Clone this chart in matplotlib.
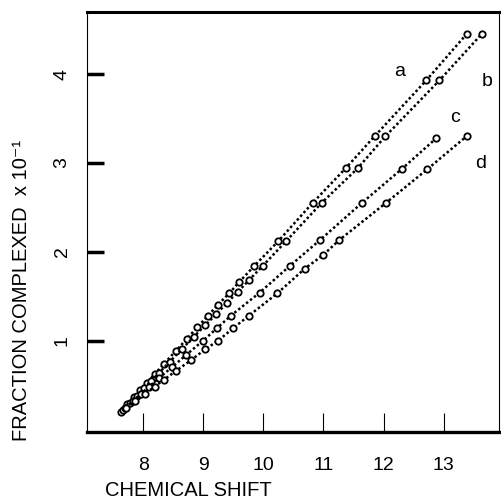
import matplotlib
matplotlib.use("Agg")
import matplotlib.pyplot as plt

plt.rcParams['font.family'] = ['Liberation Sans', 'DejaVu Sans']

# Series a
a_x = [7.63, 7.74, 7.85, 7.95, 8.06, 8.19, 8.35, 8.54, 8.73, 8.90, 9.08, 9.24,
       9.43, 9.60, 9.85, 10.25, 10.82, 11.37, 11.85, 12.71, 13.38]
a_y = [0.20, 0.28, 0.36, 0.44, 0.52, 0.62, 0.74, 0.88, 1.02, 1.15, 1.28, 1.40,
       1.53, 1.66, 1.84, 2.12, 2.55, 2.94, 3.30, 3.93, 4.45]
# Series b
b_x = [7.67, 7.78, 7.90, 8.01, 8.13, 8.27, 8.44, 8.64, 8.84, 9.03, 9.22, 9.39,
       9.58, 9.76, 9.99, 10.38, 10.97, 11.57, 12.03, 12.93, 13.63]
b_y = [0.22, 0.30, 0.38, 0.46, 0.54, 0.64, 0.76, 0.90, 1.04, 1.17, 1.30, 1.42,
       1.55, 1.68, 1.84, 2.12, 2.55, 2.94, 3.30, 3.93, 4.45]
# Series c
c_x = [7.70, 7.83, 7.96, 8.10, 8.27, 8.48, 8.72, 9.00, 9.23, 9.46, 9.94, 10.44,
       10.94, 11.64, 12.30, 12.88]
c_y = [0.24, 0.32, 0.40, 0.48, 0.58, 0.70, 0.84, 1.00, 1.14, 1.28, 1.54, 1.84,
       2.13, 2.55, 2.93, 3.28]
# Series d
d_x = [7.72, 7.87, 8.03, 8.19, 8.35, 8.55, 8.80, 9.03, 9.25, 9.50, 9.76, 10.23,
       10.69, 10.99, 11.26, 12.04, 12.73, 13.38]
d_y = [0.24, 0.32, 0.40, 0.48, 0.56, 0.66, 0.78, 0.90, 1.00, 1.14, 1.28, 1.53,
       1.81, 1.96, 2.13, 2.55, 2.93, 3.30]

series_labels = ['a', 'b', 'c', 'd']
label_pos = [(12.27, 4.03), (13.73, 3.92), (13.18, 3.51), (13.62, 2.99)]

x_ticks = [8, 9, 10, 11, 12, 13]
y_ticks = [1, 2, 3, 4]

fig = plt.figure(figsize=(5.01, 4.98), dpi=100)
ax = fig.add_axes([0.174, 0.1325, 0.822, 0.8435])

for xs, ys in [(a_x, a_y), (b_x, b_y), (c_x, c_y), (d_x, d_y)]:
    ax.plot(xs, ys, color='black', linestyle=(0, (1, 1)), linewidth=1.8,
            marker='o', markersize=4.6, markerfacecolor='white',
            markeredgecolor='black', markeredgewidth=1.3)

for lab, (lx, ly) in zip(series_labels, label_pos):
    ax.text(lx, ly, lab, fontsize=14, ha='center', va='center')

ax.set_xlim(7.07, 13.92)
ax.set_ylim(-0.03, 4.70)
ax.set_xticks(x_ticks)
ax.set_yticks(y_ticks)
ax.set_xticklabels([str(t) for t in x_ticks], fontsize=14)
ax.set_yticklabels([str(t) for t in y_ticks], fontsize=14, rotation=90,
                   va='center')

ax.tick_params(axis='x', direction='in', length=14, width=0.8, pad=18)
ax.tick_params(axis='y', direction='in', length=12, width=2.5, pad=12)

ax.spines['top'].set_linewidth(2.2)
ax.spines['bottom'].set_linewidth(2.4)
ax.spines['left'].set_linewidth(0.8)
ax.spines['right'].set_linewidth(0.8)

fig.text(105 / 501, 1 - 490 / 498, 'CHEMICAL SHIFT', fontsize=14.5,
         ha='left', va='center')
fig.text(22 / 501, 1 - 290 / 498, 'FRACTION COMPLEXED  x 10\u207b\u00b9',
         fontsize=14.5, rotation=90, ha='center', va='center')

fig.savefig('out.png', dpi=100)
